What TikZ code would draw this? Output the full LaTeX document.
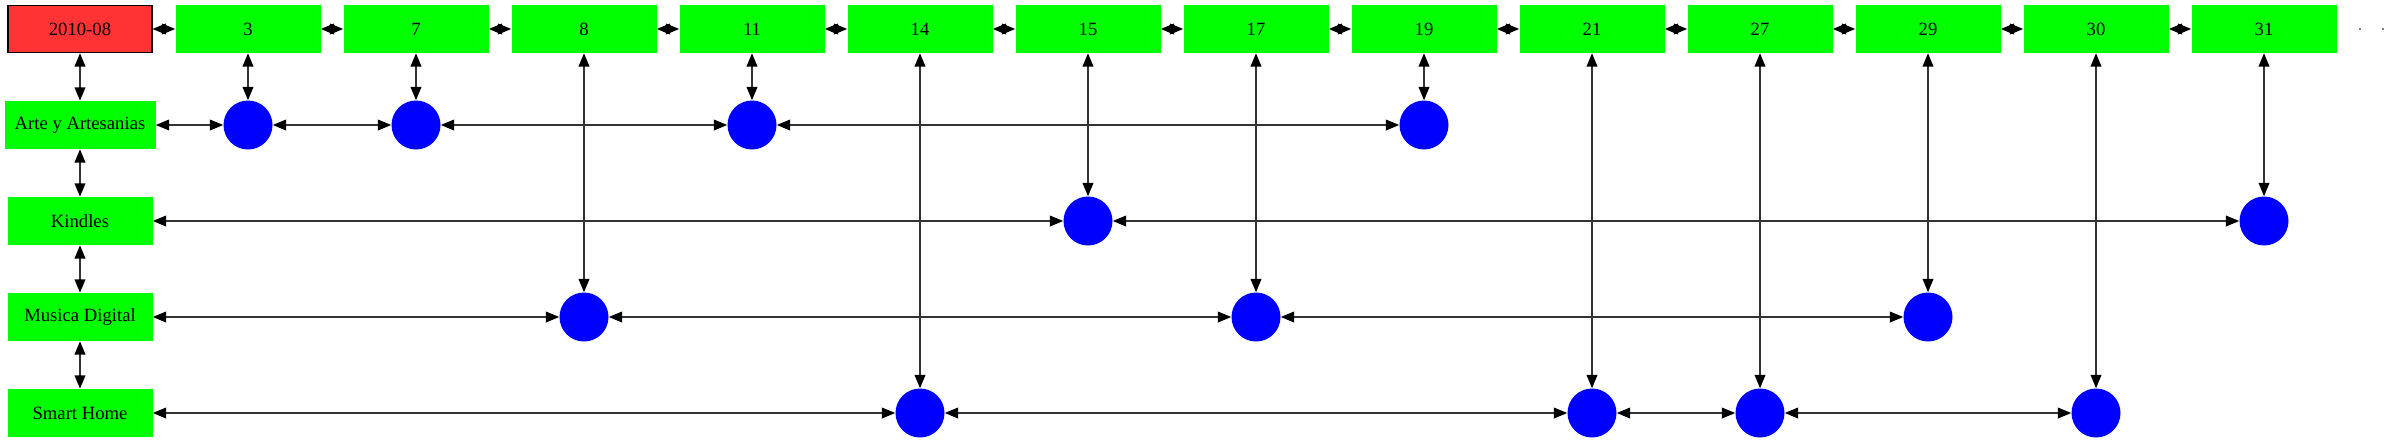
\documentclass[tikz,border=0pt]{standalone}
\usepackage{fontspec}
\setmainfont{Liberation Serif}
\usetikzlibrary{arrows.meta}
\begin{document}
\begin{tikzpicture}[x=0.75pt,y=-0.75pt,
  daybox/.style={rectangle,fill=green,draw=none,minimum width=108.75pt,minimum height=36pt,inner sep=0pt,font=\fontsize{14pt}{16pt}\selectfont},
  monthbox/.style={daybox,fill={rgb,255:red,255;green,51;blue,51},draw=black,line width=0.8pt,minimum width=108pt,minimum height=35.5pt},
  catbox/.style={daybox},
  dot/.style={circle,fill=blue,draw=none,minimum size=36.75pt,inner sep=0pt},
  link/.style={draw=black!80,line width=1.1pt,{Triangle[length=10pt,width=8pt,color=black]}-{Triangle[length=10pt,width=8pt,color=black]}}
]
\useasboundingbox (0,0) rectangle (2389,443);
% top row
\node[monthbox] (m) at (80,29) {2010-08};
\foreach \d/\x in {3/248,7/416,8/584,11/752,14/920,15/1088,17/1256,19/1424,21/1592,27/1760,29/1928,30/2096,31/2264}
  \node[daybox] (d\d) at (\x,29) {\d};
% left column
\node[catbox,minimum width=113.25pt] (a) at (80,125) {Arte y Artesanias};
\node[catbox] (k) at (80,221) {Kindles};
\node[catbox] (mu) at (80,317) {Musica Digital};
\node[catbox] (s) at (80,413) {Smart Home};
% circles
\foreach \d/\x in {3/248,7/416,11/752,19/1424} \node[dot] (a\d) at (\x,125) {};
\foreach \d/\x in {15/1088,31/2264} \node[dot] (k\d) at (\x,221) {};
\foreach \d/\x in {8/584,17/1256,29/1928} \node[dot] (mu\d) at (\x,317) {};
\foreach \d/\x in {14/920,21/1592,27/1760,30/2096} \node[dot] (s\d) at (\x,413) {};
% top chain
\draw[link] (m) -- (d3);
\foreach \p/\q in {3/7,7/8,8/11,11/14,14/15,15/17,17/19,19/21,21/27,27/29,29/30,30/31}
  \draw[link] (d\p) -- (d\q);
% left chain
\draw[link] (m) -- (a);
\draw[link] (a) -- (k);
\draw[link] (k) -- (mu);
\draw[link] (mu) -- (s);
% rows
\draw[link] (a) -- (a3);
\draw[link] (a3) -- (a7);
\draw[link] (a7) -- (a11);
\draw[link] (a11) -- (a19);
\draw[link] (k) -- (k15);
\draw[link] (k15) -- (k31);
\draw[link] (mu) -- (mu8);
\draw[link] (mu8) -- (mu17);
\draw[link] (mu17) -- (mu29);
\draw[link] (s) -- (s14);
\draw[link] (s14) -- (s21);
\draw[link] (s21) -- (s27);
\draw[link] (s27) -- (s30);
% verticals
\foreach \d in {3,7,11,19} \draw[link] (d\d) -- (a\d);
\foreach \d in {15,31} \draw[link] (d\d) -- (k\d);
\foreach \d in {8,17,29} \draw[link] (d\d) -- (mu\d);
\foreach \d in {14,21,27,30} \draw[link] (d\d) -- (s\d);
% trailing dots
\fill[gray] (2359,28) rectangle (2361,30);
\fill[gray] (2382,28) rectangle (2384,30);
\end{tikzpicture}
\end{document}
